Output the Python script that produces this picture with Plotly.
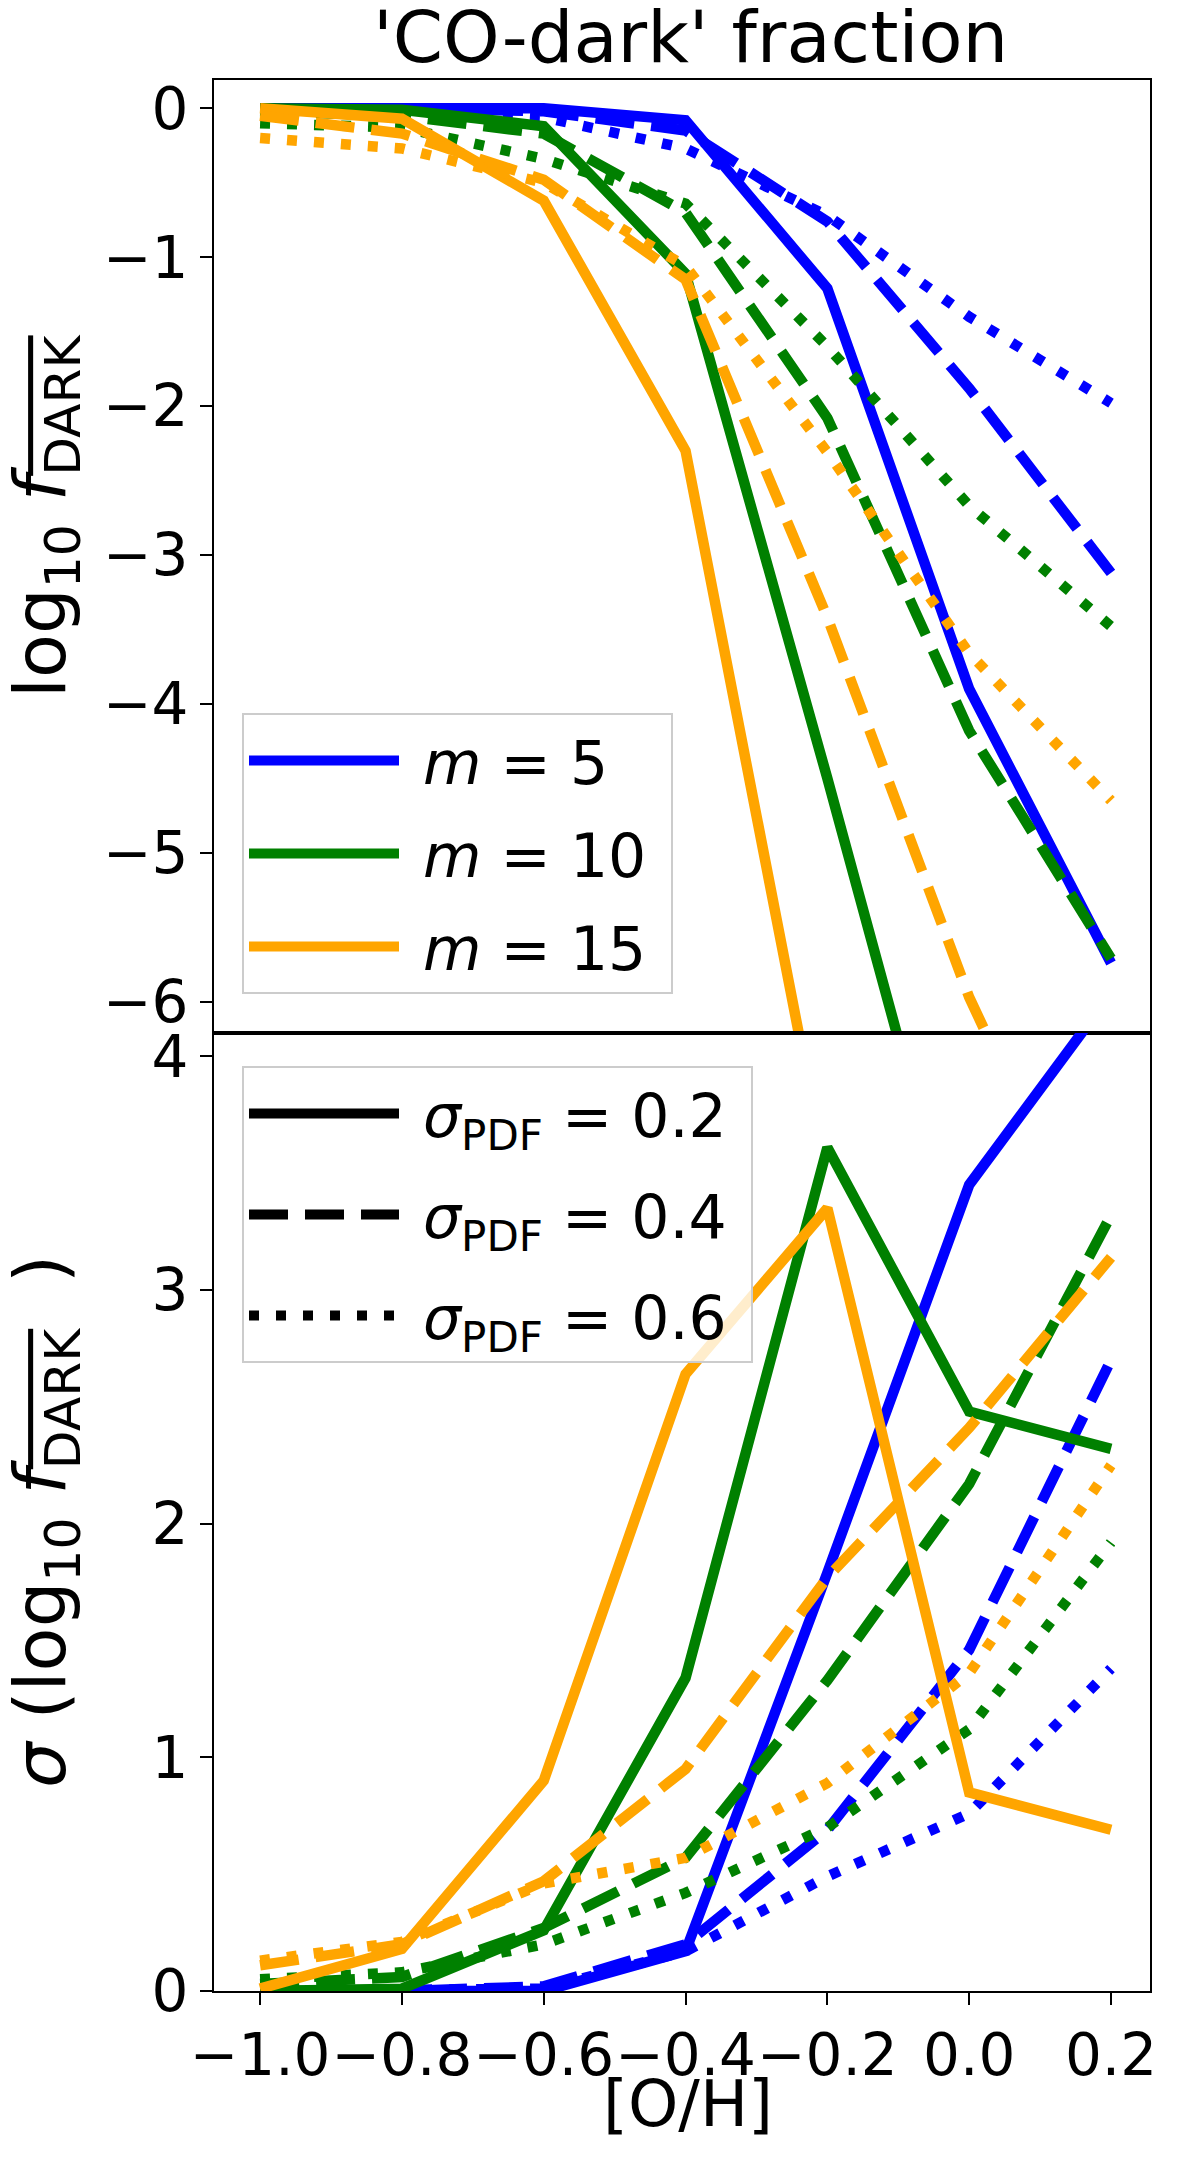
import plotly.graph_objects as go
from plotly.subplots import make_subplots

# [O/H] grid
oh = [-1.0, -0.8, -0.6, -0.4, -0.2, 0.0, 0.2]

# top panel: log10 mean f_DARK, keyed by (m, sigma_pdf)
fdark_m5_s02 = [0.0, 0.0, 0.0, -0.08, -1.21, -3.90, -5.74]
fdark_m5_s04 = [0.0, 0.0, -0.02, -0.15, -0.76, -1.88, -3.12]
fdark_m5_s06 = [0.0, -0.01, -0.06, -0.27, -0.72, -1.40, -1.98]
fdark_m10_s02 = [0.0, -0.01, -0.12, -1.11, -4.5, -8.0, None]
fdark_m10_s04 = [-0.02, -0.05, -0.17, -0.70, -2.08, -4.18, -5.71]
fdark_m10_s06 = [-0.10, -0.13, -0.34, -0.64, -1.60, -2.67, -3.48]
fdark_m15_s02 = [0.0, -0.07, -0.62, -2.30, -7.2, None, None]
fdark_m15_s04 = [-0.05, -0.17, -0.48, -1.15, -3.42, -5.97, -8.0]
fdark_m15_s06 = [-0.20, -0.27, -0.50, -1.06, -2.31, -3.66, -4.65]

# bottom panel: scatter sigma(log10 f_DARK)
sig_m5_s02 = [0.0, 0.0, 0.0, 0.17, 1.79, 3.45, 4.27]
sig_m5_s04 = [0.0, 0.0, 0.02, 0.20, 0.69, 1.46, 2.70]
sig_m5_s06 = [0.0, 0.0, 0.01, 0.17, 0.49, 0.76, 1.38]
sig_m10_s02 = [0.0, 0.01, 0.26, 1.34, 3.61, 2.48, 2.32]
sig_m10_s04 = [0.03, 0.06, 0.27, 0.57, 1.33, 2.17, 3.32]
sig_m10_s06 = [0.05, 0.08, 0.20, 0.42, 0.70, 1.12, 1.92]
sig_m15_s02 = [0.01, 0.18, 0.90, 2.64, 3.35, 0.85, 0.69]
sig_m15_s04 = [0.11, 0.20, 0.47, 0.95, 1.77, 2.41, 3.14]
sig_m15_s06 = [0.13, 0.21, 0.46, 0.57, 0.89, 1.36, 2.25]

m_labels = ["<i>m</i> = 5", "<i>m</i> = 10", "<i>m</i> = 15"]
sigma_labels = ["<i>σ</i><sub>PDF</sub> = 0.2", "<i>σ</i><sub>PDF</sub> = 0.4", "<i>σ</i><sub>PDF</sub> = 0.6"]

colors = ["#0000ff", "#008000", "#ffa500"]
dashes = ["solid", "39px,17px", "10px,17px"]
LW = 10.5
FONT = "DejaVu Sans"

top = [[fdark_m5_s02, fdark_m5_s04, fdark_m5_s06],
       [fdark_m10_s02, fdark_m10_s04, fdark_m10_s06],
       [fdark_m15_s02, fdark_m15_s04, fdark_m15_s06]]
bottom = [[sig_m5_s02, sig_m5_s04, sig_m5_s06],
          [sig_m10_s02, sig_m10_s04, sig_m10_s06],
          [sig_m15_s02, sig_m15_s04, sig_m15_s06]]

# plot area in pixels
L, R, T, MID, B = 206, 1142, 72, 1025, 1983

fig = make_subplots(rows=2, cols=1, shared_xaxes=True, vertical_spacing=0,
                    row_heights=[MID - T, B - MID])

for i in range(3):
    for j in range(3):
        fig.add_trace(go.Scatter(x=oh, y=top[i][j], mode="lines", showlegend=False,
                                 line=dict(color=colors[i], width=LW, dash=dashes[j])), row=1, col=1)
        fig.add_trace(go.Scatter(x=oh, y=bottom[i][j], mode="lines", showlegend=False,
                                 line=dict(color=colors[i], width=LW, dash=dashes[j])), row=2, col=1)

# legend handles only
sp = "\u00a0"
for i in range(3):
    fig.add_trace(go.Scatter(x=[None], y=[None], mode="lines", name=sp + m_labels[i] + sp, legend="legend",
                             legendgroup="m%d" % i, line=dict(color=colors[i], width=14)), row=1, col=1)
for j in range(3):
    fig.add_trace(go.Scatter(x=[None], y=[None], mode="lines", name=sp + sigma_labels[j] + sp,
                             legend="legend2", legendgroup="s%d" % j,
                             line=dict(color="black", width=14, dash=dashes[j])), row=2, col=1)

def px(x):
    return (x - L) / (R - L)

def py(y):
    return (B - y) / (B - T)

axis_common = dict(showline=True, linecolor="black", linewidth=2, mirror=True, showgrid=False,
                   zeroline=False, ticks="outside", ticklen=12, tickwidth=2, tickcolor="black",
                   tickangle=0, tickfont=dict(family=FONT, size=58, color="black"))
fig.update_xaxes(range=[-1.065, 0.255], **axis_common)
fig.update_xaxes(showticklabels=False, ticks="", row=1, col=1)
fig.update_xaxes(tickvals=oh, tickformat=".1f", row=2, col=1)
fig.update_yaxes(**axis_common)
fig.update_yaxes(range=[-6.21, 0.19], tickvals=[-6, -5, -4, -3, -2, -1, 0], row=1, col=1)
fig.update_yaxes(range=[0, 4.1], tickvals=[0, 1, 2, 3, 4], row=2, col=1)

legend_common = dict(bgcolor="rgba(255,255,255,0.8)", bordercolor="#cccccc", borderwidth=2,
                     font=dict(family=FONT, size=60, color="black"), itemwidth=150,
                     xanchor="left", yanchor="top")
fig.update_layout(
    width=1200, height=2157, autosize=False,
    margin=dict(l=L, r=1200 - R, t=T, b=2157 - B),
    paper_bgcolor="white", plot_bgcolor="white",
    legend=dict(x=px(234), y=py(705), tracegroupgap=12, **legend_common),
    legend2=dict(x=px(234), y=py(1058), tracegroupgap=20, **legend_common),
)

ylab = "log<sub>10</sub>\u00a0<span style='text-decoration:overline'><i>f</i><sub>DARK</sub></span>"
annos = [
    dict(text="'CO-dark' fraction", x=px(682), y=py(29), font=dict(size=72)),
    dict(text="[O/H]", x=px(680), y=py(2096), font=dict(size=64)),
    dict(text=ylab, x=px(37), y=py(508), textangle=-90, font=dict(size=72)),
    dict(text="<i>σ</i>\u00a0(" + ylab + "\u00a0\u00a0)", x=px(37), y=py(1514), textangle=-90,
         font=dict(size=72)),
]
for a in annos:
    a["font"].update(family=FONT, color="black")
    fig.add_annotation(xref="paper", yref="paper", showarrow=False, xanchor="center", yanchor="middle", **a)

fig.write_html("out.html")
